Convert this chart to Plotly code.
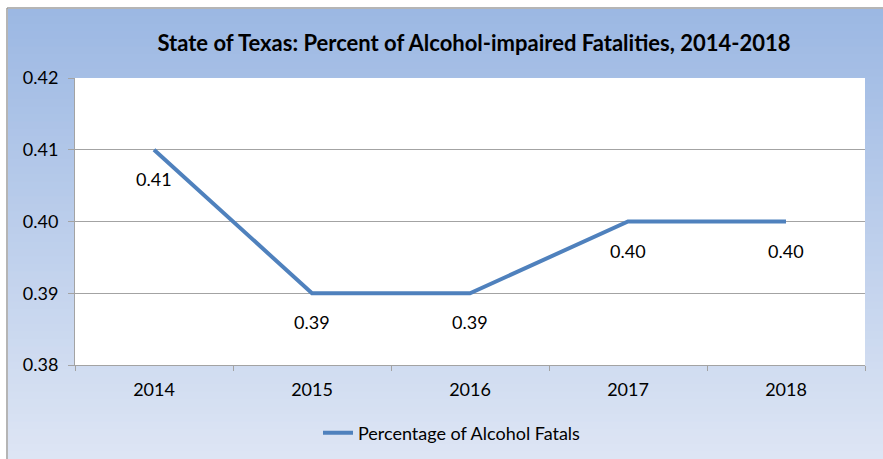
import plotly.graph_objects as go

# Chart data
years = ["2014", "2015", "2016", "2017", "2018"]
pct_alcohol = [0.41, 0.39, 0.39, 0.40, 0.40]
y_ticks = [0.38, 0.39, 0.40, 0.41, 0.42]
series_name = "Percentage of Alcohol Fatals"
title_text = "State of Texas: Percent of Alcohol-impaired Fatalities, 2014-2018"

W, H = 883, 459
ML, MR, MT, MB = 75, 18, 78, 94
PW, PH = W - ML - MR, H - MT - MB

FONT = "Lato, Calibri, Arial, sans-serif"
LINE_BLUE = "#4F81BD"
GRID = "#A3A3A3"


def px_x(p):
    return (p - ML) / PW


def px_y(p):
    return (H - MB - p) / PH


fig = go.Figure()
fig.add_trace(go.Scatter(
    x=years, y=pct_alcohol, mode="lines", name=series_name,
    line=dict(color=LINE_BLUE, width=4),
))

# value labels under each point (category index positions)
for i, v in enumerate(pct_alcohol):
    fig.add_annotation(x=i, y=v, text=f"{v:.2f}", showarrow=False,
                       yshift=-29, font=dict(family=FONT, size=18, color="#000"))

# chart-area background: vertical blue gradient built from thin strips
shapes = []
top_c = (156, 184, 227)
bot_c = (221, 229, 244)
y_top, y_bot = 9, H
n = 60
step = (y_bot - y_top) / n
for i in range(n):
    t = i / (n - 1)
    c = tuple(round(a + (b - a) * t) for a, b in zip(top_c, bot_c))
    y0 = y_top + i * step
    shapes.append(dict(
        type="rect", xref="paper", yref="paper", layer="below",
        x0=px_x(8), x1=px_x(W + 2), y0=px_y(y0 + step + 0.6), y1=px_y(y0),
        line=dict(width=0), fillcolor=f"rgb{c}",
    ))
# white plot area
shapes.append(dict(type="rect", xref="paper", yref="paper", layer="below",
                   x0=0, x1=1, y0=0, y1=1, line=dict(width=0), fillcolor="white"))
# outer frame edges
shapes.append(dict(type="line", xref="paper", yref="paper", layer="above",
                   x0=px_x(7), x1=px_x(W + 2), y0=px_y(8), y1=px_y(8),
                   line=dict(color="#9C9C9C", width=1.5)))
shapes.append(dict(type="line", xref="paper", yref="paper", layer="above",
                   x0=px_x(7), x1=px_x(7), y0=px_y(8), y1=px_y(H + 2),
                   line=dict(color="#9C9C9C", width=1.5)))

fig.update_layout(
    width=W, height=H,
    margin=dict(l=ML, r=MR, t=MT, b=MB, autoexpand=False),
    paper_bgcolor="white",
    plot_bgcolor="rgba(0,0,0,0)",
    shapes=shapes,
    font=dict(family=FONT, size=18, color="#000"),
    title=dict(text=f"<b>{title_text}</b>", x=(474 - ML) / PW, xref="paper",
               xanchor="center", y=1 - 43 / H, yref="container", yanchor="middle",
               font=dict(family=FONT, size=22, color="#000")),
    showlegend=True,
    legend=dict(orientation="h", x=px_x(452), xanchor="center",
                y=px_y(433), yanchor="middle", bgcolor="rgba(0,0,0,0)",
                font=dict(family=FONT, size=18, color="#000")),
    xaxis=dict(
        type="category", range=[-0.5, 4.5], showgrid=False,
        showline=True, linecolor=GRID, linewidth=1,
        ticks="outside", tickson="boundaries", ticklen=5, tickcolor=GRID,
        ticklabelstandoff=8, automargin=False,
        tickfont=dict(family=FONT, size=18, color="#000"),
    ),
    yaxis=dict(
        range=[0.38, 0.42], tickvals=y_ticks, tickformat=".2f",
        showgrid=True, gridcolor=GRID, gridwidth=1,
        showline=True, linecolor=GRID, linewidth=1,
        ticks="outside", ticklen=6, tickcolor=GRID, zeroline=False,
        ticklabelstandoff=6, automargin=False,
        tickfont=dict(family=FONT, size=18, color="#000"),
    ),
)

fig.write_html("out.html")
